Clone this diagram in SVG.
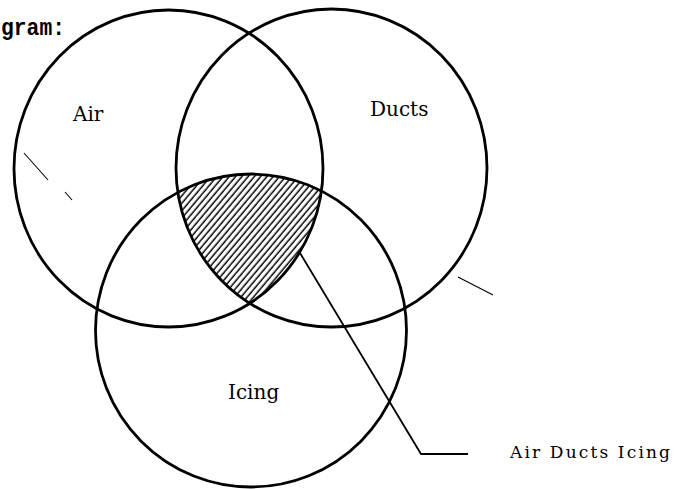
<svg xmlns="http://www.w3.org/2000/svg" width="676" height="489" viewBox="0 0 676 489">
<style>
.set{fill:none;stroke:#000;stroke-width:2.8}
.lbl{font-family:"DejaVu Serif","Liberation Serif",serif;font-size:20px;fill:#000}
.lead{fill:none;stroke:#000;stroke-width:1.8}
.noise{fill:none;stroke:#000;stroke-width:1.1}
</style>
<defs>
<pattern id="hatch" patternUnits="userSpaceOnUse" width="4.8" height="4.8" patternTransform="rotate(40)">
<line x1="1.2" y1="0" x2="1.2" y2="4.8" stroke="#000" stroke-width="1.5"/>
</pattern>
<clipPath id="cAir"><ellipse cx="168.5" cy="168.5" rx="154.5" ry="158.5"/></clipPath>
<clipPath id="cDucts"><ellipse cx="331.5" cy="168" rx="155.5" ry="159"/></clipPath>
<clipPath id="cIcing"><ellipse cx="251" cy="330.5" rx="155.5" ry="156.5"/></clipPath>
</defs>
<rect width="676" height="489" fill="#fff"/>
<text x="1" y="35" font-family="Liberation Mono,monospace" font-weight="bold" font-size="24" textLength="64" lengthAdjust="spacingAndGlyphs">gram:</text>
<g id="intersection">
<g clip-path="url(#cAir)"><g clip-path="url(#cDucts)"><g clip-path="url(#cIcing)">
<rect x="150" y="160" width="200" height="160" fill="url(#hatch)"/>
</g></g></g>
</g>
<g id="air">
<ellipse class="set" cx="168.5" cy="168.5" rx="154.5" ry="158.5"/>
<text class="lbl" x="73" y="121">Air</text>
</g>
<g id="ducts">
<ellipse class="set" cx="331.5" cy="168" rx="155.5" ry="159"/>
<text class="lbl" x="370" y="116">Ducts</text>
</g>
<g id="icing">
<ellipse class="set" cx="251" cy="330.5" rx="155.5" ry="156.5"/>
<text class="lbl" x="228" y="399">Icing</text>
</g>
<g id="connectors">
<polyline class="lead" points="300,253 421,454 468,454"/>
</g>
<g id="result-label">
<text class="lbl" x="510" y="458" style="font-size:17px" textLength="160" lengthAdjust="spacing">Air Ducts Icing</text>
</g>
<g id="marks">
<line class="noise" x1="24" y1="153" x2="48" y2="180"/>
<line class="noise" x1="65" y1="192" x2="72" y2="200"/>
<line class="noise" x1="458" y1="277" x2="493" y2="295"/>
</g>
</svg>
